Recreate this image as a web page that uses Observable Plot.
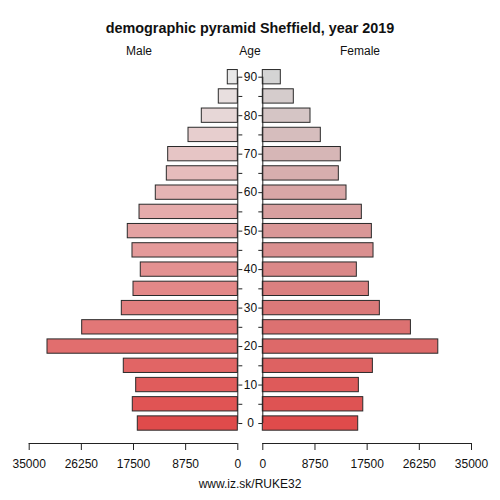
<!DOCTYPE html>
<html><head><meta charset="utf-8">
<script src="https://cdn.jsdelivr.net/npm/d3@7"></script>
<script src="https://cdn.jsdelivr.net/npm/@observablehq/plot@0.6"></script>
<style>
body{margin:0;background:#fff;font-family:"Liberation Sans",Arial,sans-serif;}
#wrap{position:relative;width:500px;height:500px;overflow:hidden;}
.lbl{position:absolute;font-size:12px;color:#111;transform:translate(-50%,0);white-space:nowrap;}
#title{position:absolute;left:0;width:500px;top:20px;text-align:center;font-weight:bold;font-size:14.4px;color:#111;}
.panel{position:absolute;top:60px;}
</style></head>
<body><div id="wrap">
<div id="title">demographic pyramid Sheffield, year 2019</div>
<div class="lbl" style="left:139px;top:44px">Male</div>
<div class="lbl" style="left:250px;top:44px">Age</div>
<div class="lbl" style="left:360px;top:44px">Female</div>
<div id="left" class="panel" style="left:0px"></div>
<div id="right" class="panel" style="left:250px"></div>
<div class="lbl" style="left:250px;top:477px">www.iz.sk/RUKE32</div>
</div>
<script>
const ages = [0,5,10,15,20,25,30,35,40,45,50,55,60,65,70,75,80,85,90];
const male = [16780,17620,17050,19130,31930,26110,19460,17500,16280,17670,18460,16490,13760,11910,11680,8270,6040,3190,1680];
const female = [16000,16850,16110,18460,29430,24840,19630,17790,15770,18570,18290,16610,14040,12750,13090,9730,8000,5200,3020];
const xTicks = [0,8750,17500,26250,35000];
const ageLabels = [0,10,20,30,40,50,60,70,80,90];

const maleData = ages.map((a,i)=>({age:a, value:male[i]}));
const femaleData = ages.map((a,i)=>({age:a, value:female[i]}));
const red = "#df4b4b";
const colM = d3.scaleLinear().domain([0,90]).range([red,"#e8e8e8"]).interpolate(d3.interpolateRgb);
const colF = d3.scaleLinear().domain([0,90]).range([red,"#d4d4d4"]).interpolate(d3.interpolateRgb);
const half = 1.86;
const H = 415;
const common = {
  width:250, height:H, marginTop:16.7, marginBottom:32,
  style:{fontFamily:"'Liberation Sans',Arial,sans-serif", fontSize:"12px", overflow:"visible", background:"transparent", color:"#111"},
  y:{domain:[-5.19,90]}
};
function panel(data, col, isLeft){
  const marks = [
    Plot.rectX(data,{x1:0,x2:"value",y1:d=>d.age-half,y2:d=>d.age+half,fill:d=>col(d.age),stroke:"#2a2a2a",strokeWidth:1}),
    Plot.ruleX([0],{y1:0,y2:90,stroke:"#222"}),
    Plot.axisY(ages,{anchor:isLeft?"right":"left",tickSize:4,tickFormat:()=>"",label:null,stroke:"#222"}),
    Plot.ruleY([-5.19],{x1:0,x2:35000,stroke:"#222"}),
    Plot.axisX(xTicks,{tickSize:7,tickPadding:9,tickFormat:d3.format("d"),label:null,fontSize:12,stroke:"#222"})
  ];
  if(!isLeft){
    marks.push(Plot.text(ageLabels,{y:d=>d,text:d=>String(d),frameAnchor:"left",dx:-12.3,textAnchor:"middle",fontSize:12,fill:"#111"}));
  }
  return Plot.plot({
    ...common,
    marginLeft: isLeft?28.7:12.3,
    marginRight: isLeft?12.7:29,
    x:{domain:[0,35000], reverse:isLeft, label:null},
    y:{domain:[-5.19,90], label:null},
    marks
  });
}
document.getElementById("left").appendChild(panel(maleData,colM,true));
document.getElementById("right").appendChild(panel(femaleData,colF,false));
</script>
</body></html>
